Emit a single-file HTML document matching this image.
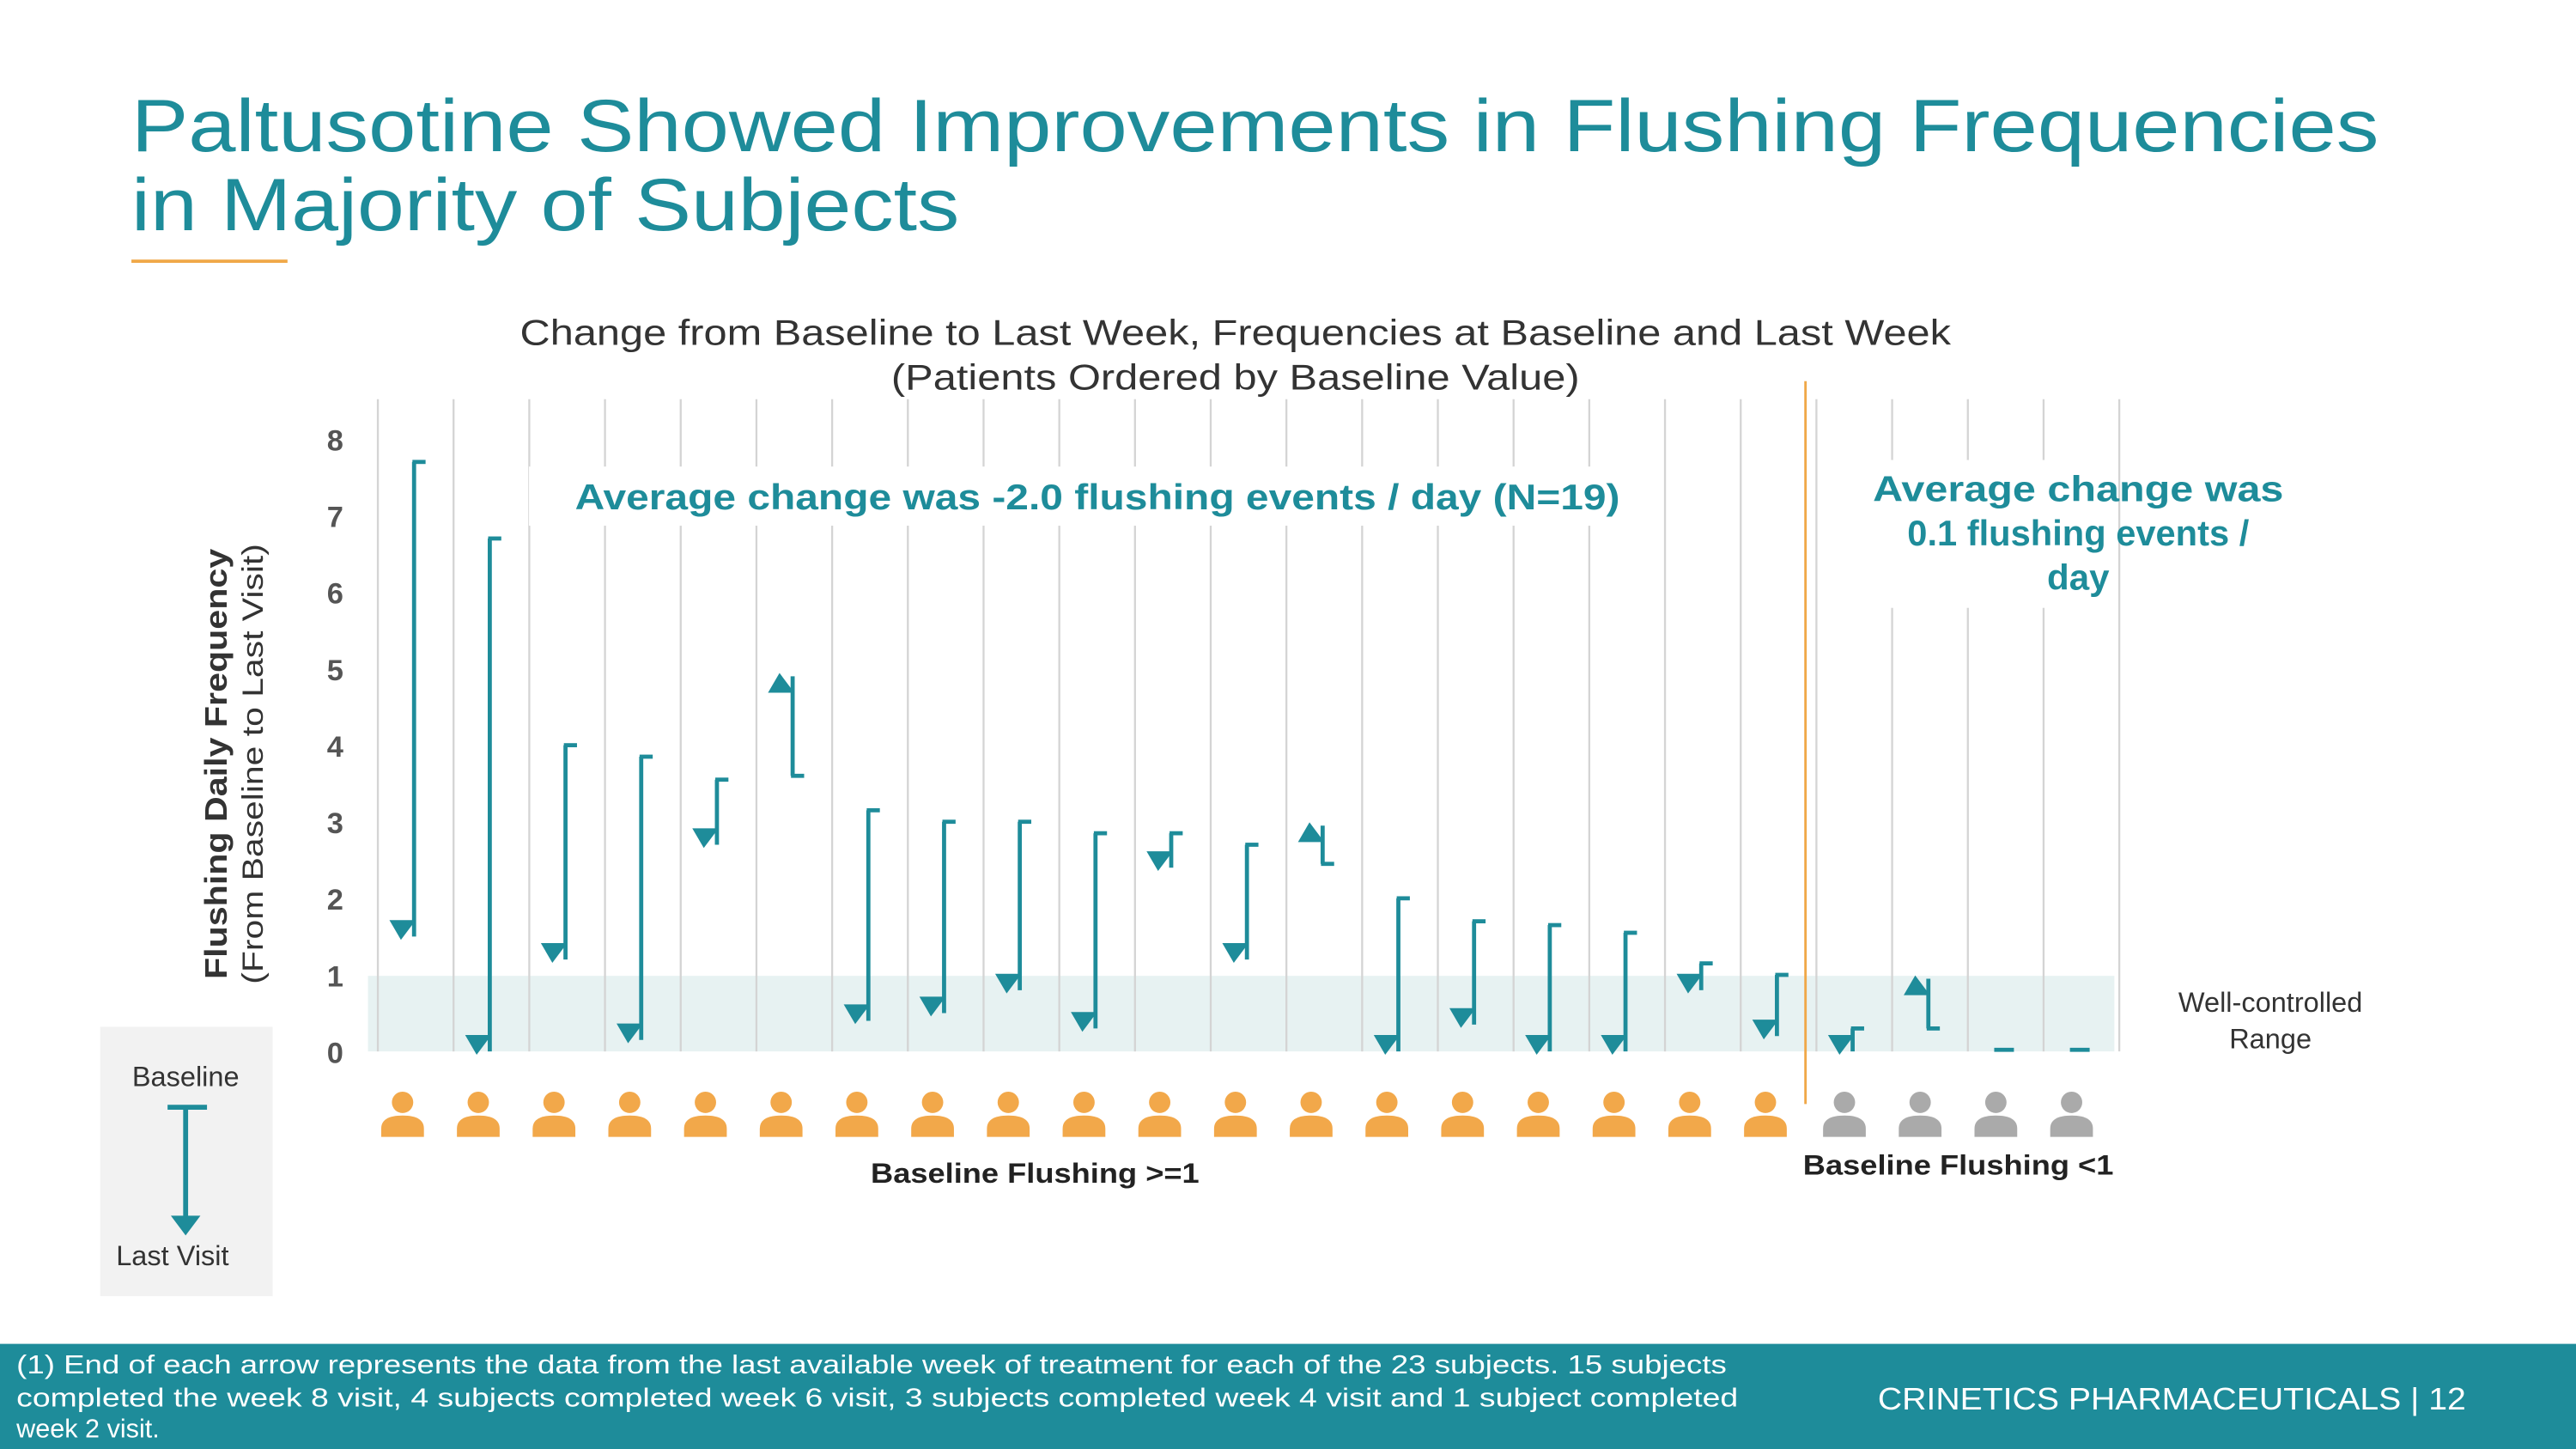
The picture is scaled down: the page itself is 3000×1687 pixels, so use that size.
<!DOCTYPE html>
<html><head><meta charset="utf-8"><style>
html,body{margin:0;padding:0;background:#fff;}
svg{display:block;}
text{font-family:"Liberation Sans",sans-serif;}
</style></head><body>
<svg id="s" width="3000" height="1687" viewBox="0 0 1568 882" preserveAspectRatio="none">
<text x="80" y="92" font-size="45" fill="#1e8c9a" textLength="1368" lengthAdjust="spacingAndGlyphs">Paltusotine Showed Improvements in Flushing Frequencies</text>
<text x="80" y="140" font-size="45" fill="#1e8c9a" textLength="504" lengthAdjust="spacingAndGlyphs">in Majority of Subjects</text>
<rect x="80" y="158" width="95" height="2" fill="#f0a848"/>
<text x="752" y="210" font-size="22" fill="#333" text-anchor="middle" textLength="871" lengthAdjust="spacingAndGlyphs">Change from Baseline to Last Week, Frequencies at Baseline and Last Week</text>
<text x="752" y="237" font-size="22" fill="#333" text-anchor="middle" textLength="419" lengthAdjust="spacingAndGlyphs">(Patients Ordered by Baseline Value)</text>
<rect x="224" y="594" width="1063" height="46" fill="#e7f2f2"/>
<g id="grid"></g>
<rect x="322" y="284" width="690" height="36" fill="#fff"/>
<rect x="1108" y="280" width="180" height="90" fill="#fff"/>
<text x="668" y="310" font-size="22" font-weight="bold" fill="#1e8c9a" text-anchor="middle" textLength="636" lengthAdjust="spacingAndGlyphs">Average change was -2.0 flushing events / day (N=19)</text>
<text x="1265" y="305" font-size="22" font-weight="bold" fill="#1e8c9a" text-anchor="middle" textLength="250" lengthAdjust="spacingAndGlyphs">Average change was</text>
<text x="1265" y="332" font-size="22" font-weight="bold" fill="#1e8c9a" text-anchor="middle" textLength="208" lengthAdjust="spacingAndGlyphs">0.1 flushing events /</text>
<text x="1265" y="359" font-size="22" font-weight="bold" fill="#1e8c9a" text-anchor="middle">day</text>
<line x1="1099" y1="232" x2="1099" y2="672" stroke="#f0a848" stroke-width="1.5"/>
<g id="yaxis"></g>
<g id="marks"></g>
<g id="people"></g>
<text x="138" y="465" font-size="19" font-weight="bold" fill="#333" text-anchor="middle" transform="rotate(-90 138 465)" textLength="262" lengthAdjust="spacingAndGlyphs">Flushing Daily Frequency</text>
<text x="160" y="465" font-size="18" fill="#333" text-anchor="middle" transform="rotate(-90 160 465)" textLength="268" lengthAdjust="spacingAndGlyphs">(From Baseline to Last Visit)</text>
<text x="630" y="720" font-size="17" font-weight="bold" fill="#222" text-anchor="middle" textLength="200" lengthAdjust="spacingAndGlyphs">Baseline Flushing &gt;=1</text>
<text x="1192" y="715" font-size="17" font-weight="bold" fill="#222" text-anchor="middle" textLength="189" lengthAdjust="spacingAndGlyphs">Baseline Flushing &lt;1</text>
<text x="1382" y="616" font-size="17" fill="#333" text-anchor="middle">Well-controlled</text>
<text x="1382" y="638" font-size="17" fill="#333" text-anchor="middle">Range</text>
<g>
<rect x="61" y="625" width="105" height="164" fill="#f2f2f2"/>
<text x="113" y="661" font-size="17" fill="#333" text-anchor="middle">Baseline</text>
<line x1="102" y1="674" x2="126" y2="674" stroke="#1e8c9a" stroke-width="3"/>
<line x1="113" y1="674" x2="113" y2="742" stroke="#1e8c9a" stroke-width="3"/>
<polygon points="104,740 122,740 113,752" fill="#1e8c9a"/>
<text x="105" y="770" font-size="17" fill="#333" text-anchor="middle">Last Visit</text>
</g>
<rect x="0" y="818" width="1568" height="64" fill="#1e8c9a"/>
<g fill="#fff" font-size="16">
<text x="10" y="836" textLength="1041" lengthAdjust="spacingAndGlyphs">(1) End of each arrow represents the data from the last available week of treatment for each of the 23 subjects. 15 subjects</text>
<text x="10" y="856" textLength="1048" lengthAdjust="spacingAndGlyphs">completed the week 8 visit, 4 subjects completed week 6 visit, 3  subjects completed week 4 visit and 1 subject completed</text>
<text x="10" y="875">week 2 visit.</text>
</g>
<text x="1143" y="858" font-size="19" fill="#fff" textLength="358" lengthAdjust="spacingAndGlyphs">CRINETICS PHARMACEUTICALS  |  12</text>
</svg>
<script>
const baseline = [7.7,6.7,4.0,3.85,3.55,3.6,3.15,3.0,3.0,2.85,2.85,2.7,2.45,2.0,1.7,1.65,1.55,1.15,1.0,0.3,0.3,0,0];
const lastVisit = [1.5,0,1.2,0.15,2.7,4.9,0.4,0.5,0.8,0.3,2.4,1.2,2.95,0,0.35,0,0,0.8,0.2,0,0.95,0,0];
const groupHigh = [1,1,1,1,1,1,1,1,1,1,1,1,1,1,1,1,1,1,1,0,0,0,0];
const yTicks = [0,1,2,3,4,5,6,7,8];
const NS='http://www.w3.org/2000/svg';
const X0=230, colW=(1290-230)/23, Y0=640, unit=46.6;
const xs=i=>X0+colW*(i+0.5);
const ys=v=>Y0-v*unit;
function mk(tag,attrs,parent){const e=document.createElementNS(NS,tag);for(const k in attrs)e.setAttribute(k,attrs[k]);parent.appendChild(e);return e;}
const grid=document.getElementById('grid');
for(let i=0;i<=23;i++){
  const l=mk('line',{x1:X0+colW*i,x2:X0+colW*i,y1:243,y2:640,stroke:'#d4d4d4','stroke-width':1.2},grid);
  
  
}
const ya=document.getElementById('yaxis');
yTicks.forEach(t=>{
  const e=mk('text',{x:204,y:ys(t)+7,'font-size':18,'font-weight':'bold',fill:'#555','text-anchor':'middle'},ya);
  e.textContent=t;
  
  
});
const marks=document.getElementById('marks');
const C='#1e8c9a';
baseline.forEach((b,i)=>{
  const x=xs(i)-1, yb=ys(b), yl=ys(lastVisit[i]);
  const g=mk('g',{},marks);
  
  
  if(Math.abs(b-lastVisit[i])<0.01){
    mk('line',{x1:x-6,x2:x+6,y1:yb-1,y2:yb-1,stroke:C,'stroke-width':2.5},g);return;
  }
  mk('line',{x1:x-1,x2:x+7,y1:yb,y2:yb,stroke:C,'stroke-width':2.5},g);
  mk('line',{x1:x,x2:x,y1:yb,y2:yl,stroke:C,'stroke-width':2.5},g);
  if(lastVisit[i]<b){
    mk('polygon',{points:`${x-15},${yl-10} ${x+1},${yl-10} ${x-8},${yl+2}`,fill:C},g);
  } else {
    mk('polygon',{points:`${x-15},${yl+10} ${x+1},${yl+10} ${x-8},${yl-2}`,fill:C},g);
  }
});
const pp=document.getElementById('people');
groupHigh.forEach((h,i)=>{
  const x=xs(i)-8+(i>=19?2:0), col=h?'#f2a84a':'#aaaaaa';
  const g=mk('g',{},pp);
  
  
  mk('circle',{cx:x,cy:671,r:6.5,fill:col},g);
  mk('path',{d:`M${x-13},692 L${x-13},687 Q${x-13},679 ${x},679 Q${x+13},679 ${x+13},687 L${x+13},692 Z`,fill:col},g);
});
</script>
</body></html>
